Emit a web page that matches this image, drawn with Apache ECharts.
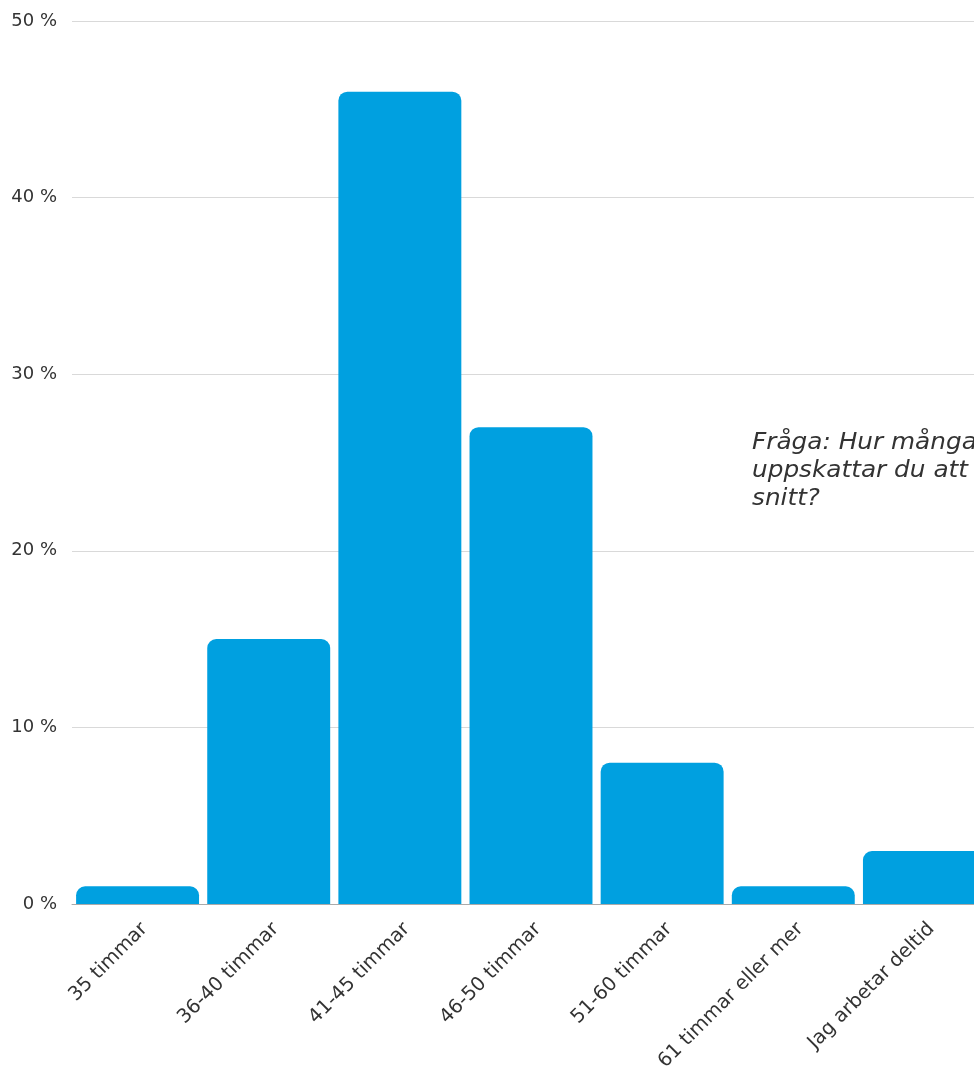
<!DOCTYPE html>
<html><head><meta charset="utf-8">
<script src="https://cdn.jsdelivr.net/npm/echarts@6/dist/echarts.min.js"></script>
<style>html,body{margin:0;padding:0;background:#fff;width:974px;height:1069px;overflow:hidden}#c{width:990px;height:1069px}</style>
</head><body><div id="c"></div>
<script>
const categories = ['35 timmar','36-40 timmar','41-45 timmar','46-50 timmar','51-60 timmar','61 timmar eller mer','Jag arbetar deltid'];
const values = [1, 15, 46, 27, 8, 1, 3];
const yTicks = [0, 10, 20, 30, 40, 50];
const note = 'Fråga: Hur många timmar arbetar du\nuppskattar du att du arbetar i\nsnitt?';

const chart = echarts.init(document.getElementById('c'), null, {renderer:'canvas'});
chart.setOption({
  animation:false,
  grid:{left:72, top:21, bottom:165, right:0, containLabel:false, outerBoundsMode:'none'},
  xAxis:{type:'category', data:categories,
    axisLine:{lineStyle:{color:'#aaaaaa', width:1}}, axisTick:{show:false},
    axisLabel:{rotate:45, interval:0, fontSize:19.5, color:'#333', fontFamily:'DejaVu Sans', margin:29, padding:[0,-10,0,0]}},
  yAxis:{type:'value', min:yTicks[0], max:yTicks[yTicks.length-1], interval:10,
    axisLabel:{formatter:v=>v+' %', fontSize:18, color:'#333', fontFamily:'DejaVu Sans', margin:15},
    splitLine:{lineStyle:{color:'#d9d9d9'}}, axisLine:{show:false}, axisTick:{show:false}},
  series:[{type:'bar', data:values, barCategoryGap:'6.25%',
    itemStyle:{color:'#00A0E0', borderRadius:[9,9,0,0]}}],
  graphic:[{type:'text', x:752, y:429, scaleX:1.1, scaleY:1,
    style:{text:note, font:'italic 22.5px "DejaVu Sans"', fill:'#333', lineHeight:28, textVerticalAlign:'top'}}]
});
</script></body></html>
